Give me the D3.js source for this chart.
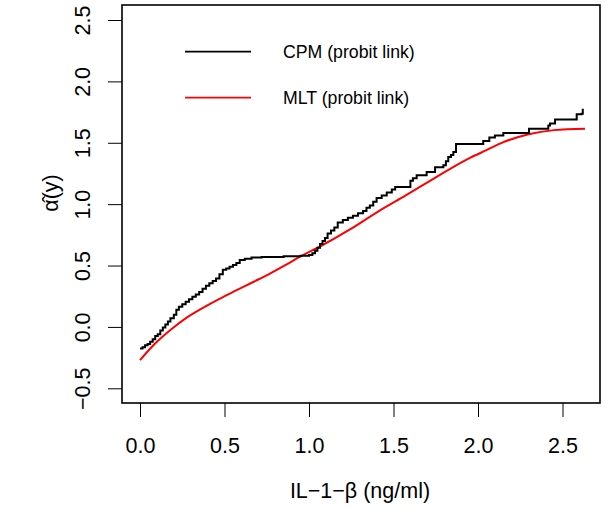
<!DOCTYPE html>
<html lang="en">
<head>
<meta charset="utf-8">
<title>CPM vs MLT</title>
<script src="https://cdn.jsdelivr.net/npm/d3@7"></script>
<style>
  body { margin: 0; background: #fff; }
  svg text { font-family: "Liberation Sans", Arial, Helvetica, sans-serif; fill: #000; }
  .tick line, .domain { stroke: #000; }
</style>
</head>
<body>
<script>
// CPM (probit link) step estimate: x where each step begins, and its level
const cpmX = [0.000, 0.015, 0.030, 0.045, 0.060, 0.075, 0.090, 0.105, 0.120, 0.135,
  0.150, 0.165, 0.180, 0.200, 0.215, 0.230, 0.250, 0.270, 0.290, 0.310,
  0.330, 0.350, 0.370, 0.390, 0.410, 0.430, 0.450, 0.470, 0.490, 0.510,
  0.530, 0.550, 0.570, 0.590, 0.620, 0.660, 0.720, 0.850, 0.950, 1.000,
  1.020, 1.036, 1.050, 1.065, 1.080, 1.095, 1.110, 1.130, 1.150, 1.170,
  1.200, 1.230, 1.260, 1.290, 1.320, 1.340, 1.360, 1.380, 1.400, 1.430,
  1.460, 1.490, 1.510, 1.600, 1.615, 1.637, 1.696, 1.746, 1.795, 1.810,
  1.824, 1.840, 1.854, 1.870, 2.031, 2.067, 2.100, 2.150, 2.302, 2.416,
  2.426, 2.456, 2.584, 2.613, 2.620];
const cpmY = [-0.176, -0.165, -0.150, -0.140, -0.120, -0.100, -0.075, -0.060, -0.030, -0.005,
  0.020, 0.045, 0.070, 0.100, 0.140, 0.165, 0.185, 0.205, 0.225, 0.245,
  0.265, 0.285, 0.310, 0.335, 0.355, 0.375, 0.395, 0.430, 0.465, 0.475,
  0.490, 0.505, 0.520, 0.545, 0.555, 0.565, 0.570, 0.576, 0.580, 0.585,
  0.600, 0.620, 0.645, 0.675, 0.700, 0.725, 0.760, 0.785, 0.810, 0.850,
  0.870, 0.890, 0.905, 0.925, 0.945, 0.970, 0.990, 1.020, 1.050, 1.070,
  1.095, 1.120, 1.140, 1.190, 1.210, 1.235, 1.262, 1.300, 1.317, 1.350,
  1.384, 1.400, 1.425, 1.490, 1.515, 1.542, 1.560, 1.580, 1.615, 1.640,
  1.656, 1.689, 1.732, 1.737, 1.778];

// MLT (probit link) smooth estimate
const mltX = [0.000, 0.079, 0.178, 0.276, 0.375, 0.473, 0.572, 0.670, 0.769, 0.868,
  0.947, 1.065, 1.250, 1.420, 1.570, 1.716, 1.850, 1.950, 2.050, 2.150, 2.300, 2.450, 2.633];
const mltY = [-0.271, -0.149, -0.027, 0.076, 0.158, 0.231, 0.299, 0.366, 0.435, 0.510,
  0.572, 0.655, 0.800, 0.950, 1.070, 1.190, 1.300, 1.375, 1.440, 1.505, 1.570, 1.603, 1.615];

const xTicks = [0, 0.5, 1, 1.5, 2, 2.5];
const yTicks = [-0.5, 0, 0.5, 1, 1.5, 2, 2.5];
const seriesNames = ["CPM (probit link)", "MLT (probit link)"];
const seriesColors = ["#000000", "#ff0000"];

const width = 608, height = 510;
const box = { left: 122, right: 600, top: 5, bottom: 403 };

const svg = d3.select("body").append("svg")
  .attr("width", width)
  .attr("height", height);

const x = d3.scaleLinear().domain([0, 2.5]).range([140, 562.5]);
const y = d3.scaleLinear().domain([-0.5, 2.5]).range([388.3, 20]);

// axes
const xAxis = d3.axisBottom(x).tickValues(xTicks).tickSize(14).tickPadding(21)
  .tickFormat(d3.format(".1f"));
svg.append("g")
  .attr("transform", `translate(0, ${box.bottom})`)
  .call(xAxis)
  .call(g => g.select(".domain").remove())
  .call(g => g.selectAll("text").attr("font-size", 21.5).attr("dy", "0.71em"));

const yAxis = d3.axisLeft(y).tickValues(yTicks).tickSize(14)
  .tickFormat(d => d3.format(".1f")(d).replace("-", "\u2212"));
svg.append("g")
  .attr("transform", `translate(${box.left}, 0)`)
  .call(yAxis)
  .call(g => g.select(".domain").remove())
  .call(g => g.selectAll(".tick text")
    .attr("font-size", 21.5)
    .attr("x", null)
    .attr("text-anchor", "middle")
    .attr("transform", "translate(-40, 0) rotate(-90)")
    .attr("dy", "0.35em"));

// box
svg.append("rect")
  .attr("x", box.left).attr("y", box.top)
  .attr("width", box.right - box.left).attr("height", box.bottom - box.top)
  .attr("fill", "none").attr("stroke", "#000").attr("stroke-width", 1.6);

// lines
const cpm = cpmX.map((d, i) => [d, cpmY[i]]);
const mlt = mltX.map((d, i) => [d, mltY[i]]);

const stepLine = d3.line()
  .x(d => x(d[0])).y(d => y(d[1]))
  .curve(d3.curveStepAfter);
const smoothLine = d3.line()
  .x(d => x(d[0])).y(d => y(d[1]))
  .curve(d3.curveMonotoneX);

svg.append("path")
  .attr("d", smoothLine(mlt))
  .attr("fill", "none").attr("stroke", seriesColors[1]).attr("stroke-width", 2);
svg.append("path")
  .attr("d", stepLine(cpm))
  .attr("fill", "none").attr("stroke", seriesColors[0]).attr("stroke-width", 2);

// legend
const legend = svg.append("g");
seriesNames.forEach((name, i) => {
  const ly = 51.7 + i * 46;
  legend.append("line")
    .attr("x1", 185).attr("x2", 251).attr("y1", ly).attr("y2", ly)
    .attr("stroke", seriesColors[i]).attr("stroke-width", 1.8);
  legend.append("text")
    .attr("x", 283).attr("y", ly).attr("dy", "0.35em")
    .attr("font-size", 17.7)
    .text(name);
});

// axis titles
svg.append("text")
  .attr("x", (box.left + box.right) / 2 - 1).attr("y", 490).attr("dy", "0.35em")
  .attr("text-anchor", "middle").attr("font-size", 21.5)
  .text("IL\u22121\u2212\u03B2 (ng/ml)");

svg.append("text")
  .attr("transform", "translate(50, 193) rotate(-90)")
  .attr("text-anchor", "middle").attr("dy", "0.35em").attr("font-size", 21.5)
  .text("\u03B1\u0302(y)");
</script>
</body>
</html>
